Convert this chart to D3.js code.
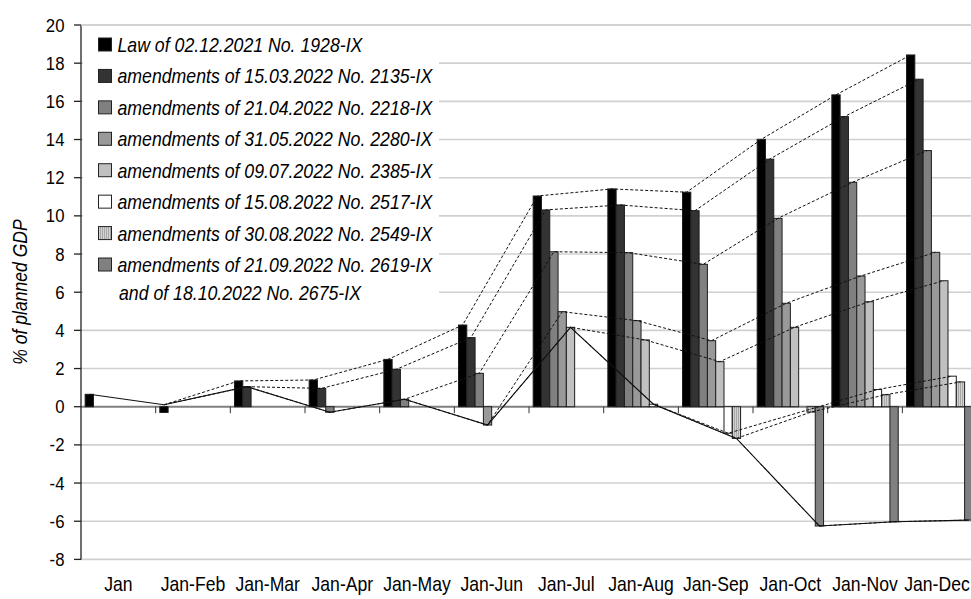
<!DOCTYPE html>
<html><head><meta charset="utf-8">
<script src="https://cdn.jsdelivr.net/npm/d3@7"></script>
<style>body{margin:0;background:#fff}svg{display:block}</style>
</head><body><svg id="c" width="971" height="599"></svg>
<script>
const categories = ["Jan","Jan-Feb","Jan-Mar","Jan-Apr","Jan-May","Jan-Jun","Jan-Jul","Jan-Aug","Jan-Sep","Jan-Oct","Jan-Nov","Jan-Dec"];
const seriesNames = [
  ["Law of 02.12.2021 No. 1928-IX"],
  ["amendments of 15.03.2022 No. 2135-IX"],
  ["amendments of 21.04.2022 No. 2218-IX"],
  ["amendments of 31.05.2022 No. 2280-IX"],
  ["amendments of 09.07.2022 No. 2385-IX"],
  ["amendments of 15.08.2022 No. 2517-IX"],
  ["amendments of 30.08.2022 No. 2549-IX"],
  ["amendments of 21.09.2022 No. 2619-IX","and of 18.10.2022 No. 2675-IX"]
];
const s1 = [0.65,-0.3,1.35,1.4,2.48,4.28,11.04,11.41,11.24,14.01,16.34,18.43];
const s2 = [null,null,1.05,0.96,1.96,3.62,10.31,10.57,10.27,12.97,15.2,17.16];
const s3 = [null,null,null,-0.29,0.39,1.75,8.12,8.07,7.46,9.87,11.76,13.42];
const s4 = [null,null,null,null,null,-0.96,4.98,4.51,3.46,5.42,6.85,8.09];
const s5 = [null,null,null,null,null,null,4.16,3.5,2.36,4.16,5.5,6.6];
const s6 = [null,null,null,null,null,null,null,0.13,-1.39,null,0.9,1.6];
const s7 = [null,null,null,null,null,null,null,null,-1.66,-0.28,0.63,1.3];
const s8 = [null,null,null,null,null,null,null,null,null,-6.25,-6.03,-5.94];
const series = [s1,s2,s3,s4,s5,s6,s7,s8];
// solid line: value and the series whose bar it is attached to in each period
const lineSeriesIdx = [0,0,1,2,2,3,4,5,6,7,7,7];
const lineValues = [0.65,0.1,1.05,-0.29,0.39,-0.96,4.16,0.13,-1.66,-6.25,-6.03,-5.94];
// dashed lines: first period of each series' dashed line (starts from the solid line one period earlier)
const dashedStart = [2,2,3,5,6,7,8,9];
const yTicks = d3.range(-8,21,2);

const fills = ["#000000","#333333","#808080","#999999","#c0c0c0","#ffffff","url(#stripe)","#808080"];

const svg = d3.select("#c");
const FONT = "'Liberation Sans', Arial, sans-serif";
const defs = svg.append("defs");
const pat = defs.append("pattern").attr("id","stripe").attr("patternUnits","userSpaceOnUse")
  .attr("width",2).attr("height",4);
pat.append("rect").attr("width",2).attr("height",4).attr("fill","#d2d2d2");
pat.append("rect").attr("width",1).attr("height",4).attr("fill","#a8a8a8");

const pLeft = 81, catW = 74.67, pTop = 25, pBottom = 559.4;
const x0 = d3.scaleBand().domain(categories).range([pLeft, pLeft + catW*categories.length]).padding(0);
const x1 = d3.scaleBand().domain(d3.range(8)).range([0, x0.bandwidth()]).paddingInner(0).paddingOuter(0.5);
const y = d3.scaleLinear().domain([-8,20]).range([pBottom, pTop]);
const cx = (m,k) => x0(categories[m]) + x1(k) + x1.bandwidth()/2;

function txt(g, x, yy, s, size, sx, anchor, italic){
  return g.append("text").attr("transform",`translate(${x},${yy}) scale(${sx},1)`)
    .attr("text-anchor",anchor).attr("font-family",FONT).attr("font-size",size)
    .attr("font-style",italic?"italic":"normal").attr("fill","#000").text(s);
}

// gridlines
svg.append("g").selectAll("line").data(yTicks.filter(d=>d!==0)).join("line")
  .attr("x1",pLeft).attr("x2",971).attr("y1",d=>y(d)).attr("y2",d=>y(d))
  .attr("stroke","#d0d0d0").attr("stroke-width",1.6);

// legend box
const lg = svg.append("g");
lg.append("rect").attr("x",83).attr("y",29).attr("width",356).attr("height",277).attr("fill","#fff");
seriesNames.forEach((lines,i)=>{
  const cy = 45 + i*31.43;
  lg.append("rect").attr("x",98.5).attr("y",cy-7).attr("width",13).attr("height",13)
    .attr("fill",fills[i]).attr("stroke","#222").attr("stroke-width",1);
  lines.forEach((t,j)=>{
    txt(lg, 117.5 + (j?1.5:0), cy + 7 + j*28.3, t, 20, 0.885, "start", true);
  });
});

// zero line
svg.append("line").attr("x1",pLeft).attr("x2",971).attr("y1",y(0)).attr("y2",y(0))
  .attr("stroke","#808080").attr("stroke-width",2);

// bars
const bars = svg.append("g");
series.forEach((vals,k)=>{
  bars.selectAll(null).data(vals.map((v,m)=>({v,m})).filter(d=>d.v!==null)).join("rect")
    .attr("x",d=>x0(categories[d.m]) + x1(k))
    .attr("width",x1.bandwidth())
    .attr("y",d=>y(Math.max(0,d.v)))
    .attr("height",d=>Math.abs(y(d.v)-y(0)))
    .attr("fill",fills[k]).attr("stroke","#1e1e1e").attr("stroke-width",1);
});

// x ticks on zero line
svg.append("g").selectAll("line").data(categories.slice(1)).join("line")
  .attr("x1",d=>x0(d)).attr("x2",d=>x0(d)).attr("y1",y(0)).attr("y2",y(0)+6.5)
  .attr("stroke","#333").attr("stroke-width",1);

// dashed lines
const line = d3.line().x(d=>d[0]).y(d=>y(d[1]));
const lines = svg.append("g");
series.forEach((vals,k)=>{
  const st = dashedStart[k];
  const pts = [[cx(st-1, lineSeriesIdx[st-1]), lineValues[st-1]]];
  for(let m=st;m<categories.length;m++) if(vals[m]!==null) pts.push([cx(m,k), vals[m]]);
  lines.append("path").attr("d",line(pts)).attr("fill","none").attr("stroke","#111")
    .attr("stroke-width",1).attr("stroke-dasharray","3,2");
});
// solid line
lines.append("path").attr("d",line(lineValues.map((v,m)=>[cx(m,lineSeriesIdx[m]),v])))
  .attr("fill","none").attr("stroke","#111").attr("stroke-width",1.1);

// y axis
const ya = svg.append("g");
ya.append("line").attr("x1",pLeft).attr("x2",pLeft).attr("y1",pTop).attr("y2",pBottom).attr("stroke","#222").attr("stroke-width",1.3);
yTicks.forEach(t=>{
  ya.append("line").attr("x1",pLeft-7).attr("x2",pLeft).attr("y1",y(t)).attr("y2",y(t)).attr("stroke","#222").attr("stroke-width",1.3);
  txt(ya, 64.5, y(t)+6.6, t, 18.6, 0.9, "end", false);
});
svg.append("line").attr("x1",pLeft).attr("x2",971).attr("y1",y(20)).attr("y2",y(20)).attr("stroke","#d0d0d0").attr("stroke-width",1.6);

// x labels
categories.forEach((c,i)=>{
  const cxl = x0(c)+x0.bandwidth()/2;
  txt(svg, i === categories.length-1 ? Math.min(cxl, 937) : cxl, 591, c, 20, 0.88, "middle", false);
});

// y title
svg.append("text").attr("transform","translate(27,292) rotate(-90) scale(0.9,1)")
  .attr("text-anchor","middle").attr("font-family",FONT).attr("font-size",19.5)
  .attr("font-style","italic").text("% of planned GDP");
</script></body></html>
